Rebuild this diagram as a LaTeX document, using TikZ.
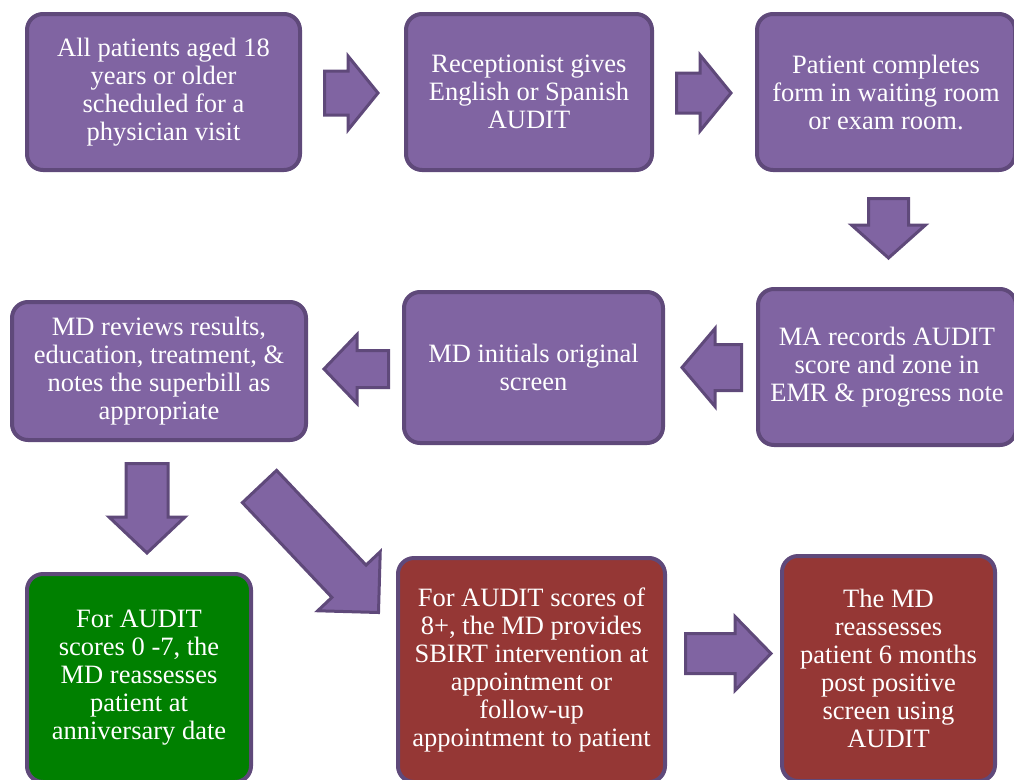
\documentclass[tikz,border=0pt]{standalone}
\usepackage{fontspec}
\setmainfont{Liberation Serif}
\usetikzlibrary{calc}

\definecolor{boxpurple}{HTML}{8064A2}
\definecolor{edgepurple}{HTML}{5F497A}
\definecolor{boxred}{HTML}{953735}
\definecolor{boxgreen}{HTML}{008000}

% block arrow: start, tip, half shaft, half head, head length
\newcommand{\blockarrow}[5]{%
	\draw[fatarrow] ($(#1)!#3!90:(#2)$) -- ($(#2)!#5!(#1)!#3!90:(#2)$) -- ($(#2)!#5!(#1)!#4!90:(#2)$) -- (#2) -- ($(#2)!#5!(#1)!#4!-90:(#2)$) -- ($(#2)!#5!(#1)!#3!-90:(#2)$) -- ($(#1)!#3!-90:(#2)$) -- cycle;
}

\begin{document}
\begin{tikzpicture}[x=1pt,y=-1pt,
	box/.style={rectangle, rounded corners=16pt, draw=edgepurple, line width=4pt, fill=boxpurple, text=white, align=center, inner sep=0pt, font=\fontsize{26.5}{28}\selectfont},
	fatarrow/.style={draw=edgepurple, line width=3pt, fill=boxpurple, line join=miter}]
	\useasboundingbox (0,0) rectangle (1014,779);
	\clip (0,0) rectangle (1014,779);

	% top row
	\node[box, minimum width=273pt, minimum height=156pt] (b1) at (163.5,92) {All patients aged 18\\years or older\\scheduled for a\\physician visit};
	\node[box, minimum width=246pt, minimum height=156pt] (b2) at (529,92) {Receptionist gives\\English or Spanish\\AUDIT};
	\node[box, minimum width=258pt, minimum height=156pt] (b3) at (886,92) {Patient completes\\form in waiting room\\or exam room.};

	% middle row
	\node[box, minimum width=258pt, minimum height=156pt] (b4) at (887,367) {MA records AUDIT\\score and zone in\\EMR \& progress note};
	\node[box, minimum width=259pt, minimum height=151pt] (b5) at (533.5,367.5) {MD initials original\\screen};
	\node[box, minimum width=294pt, minimum height=138pt] (b6) at (159,371) {MD reviews results,\\education, treatment, \&\\notes the superbill as\\appropriate};

	% bottom row
	\node[box, fill=boxgreen, minimum width=224pt, minimum height=208pt] (g1) at (139,678) {For AUDIT\\scores 0 -7, the\\MD reassesses\\patient at\\anniversary date};
	\node[box, fill=boxred, minimum width=267pt, minimum height=224pt] (r1) at (531.5,670) {For AUDIT scores of\\8+, the MD provides\\SBIRT intervention at\\appointment or\\follow-up\\appointment to patient};
	\node[box, fill=boxred, minimum width=213pt, minimum height=225pt] (r2) at (888.5,668.5) {The MD\\reassesses\\patient 6 months\\post positive\\screen using\\AUDIT};

	% arrow ends
	\coordinate (a1s) at ($(b1.east)+(22.5,1)$);
	\coordinate (a1t) at ($(b2.west)+(-26,1)$);
	\coordinate (a2s) at ($(b2.east)+(22.5,1)$);
	\coordinate (a2t) at ($(b3.west)+(-24,1)$);
	\coordinate (a3s) at ($(b3.south)+(2.5,26.5)$);
	\coordinate (a3t) at ($(b4.north)+(1.5,-29)$);
	\coordinate (a4s) at ($(b4.west)+(-14.5,0.5)$);
	\coordinate (a4t) at ($(b5.east)+(17,0)$);
	\coordinate (a5s) at ($(b5.west)+(-13.5,1.5)$);
	\coordinate (a5t) at ($(b6.east)+(16,-2)$);
	\coordinate (a6s) at ($(b6.south)+(-12,21.5)$);
	\coordinate (a6t) at ($(g1.north)+(8,-19)$);
	\coordinate (a7s) at ($(b6.south east)+(-48.5,44.5)$);
	\coordinate (a7t) at ($(r1.north west)+(-17.5,56.5)$);
	\coordinate (a8s) at ($(r1.east)+(18.5,-16.5)$);
	\coordinate (a8t) at ($(r2.west)+(-9,-15)$);

	\blockarrow{a1s}{a1t}{22pt}{37pt}{30pt}
	\blockarrow{a2s}{a2t}{20pt}{38pt}{31pt}
	\blockarrow{a3s}{a3t}{20pt}{37pt}{33pt}
	\blockarrow{a4s}{a4t}{23pt}{39pt}{33pt}
	\blockarrow{a5s}{a5t}{18.5pt}{34.5pt}{33pt}
	\blockarrow{a6s}{a6t}{21pt}{38pt}{36pt}
	\blockarrow{a7s}{a7t}{23.5pt}{43pt}{43pt}
	\blockarrow{a8s}{a8t}{20pt}{37pt}{36pt}
\end{tikzpicture}
\end{document}
